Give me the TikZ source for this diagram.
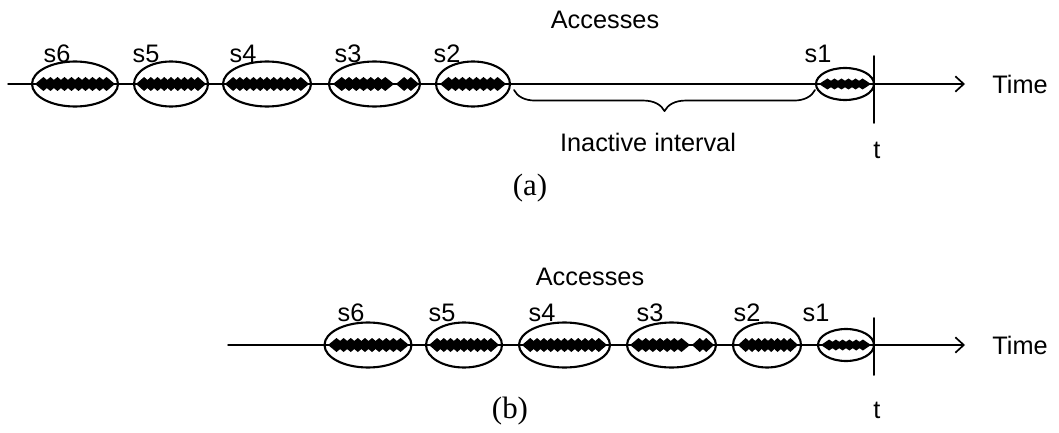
\documentclass[tikz,border=0pt]{standalone}
\usepackage{fontspec}
\setmainfont{Liberation Sans}
\newfontfamily\capfont{Liberation Serif}
\usetikzlibrary{shapes.geometric,arrows.meta,decorations.pathreplacing}

% a run of accesses: left x, right x, count, y, half height
\newcommand{\hits}[5]{%
  \pgfmathsetmacro{\dw}{(#2-#1)/(#3+1.4)}
  \foreach \k in {1,...,#3}{
    \pgfmathsetmacro{\cx}{#1+(\k+0.2)*\dw}
    \fill (\cx-1.2*\dw,#4) -- (\cx,#4-#5) -- (\cx+1.2*\dw,#4) -- (\cx,#4+#5) -- cycle;
  }}

\begin{document}
\begin{tikzpicture}[x=0.025cm, y=-0.025cm, line join=round, line cap=round,
    sess/.style={draw, ellipse, line width=1.5pt, inner sep=0pt, minimum width=#1*0.025cm, minimum height=45*0.025cm},
    lbl/.style={inner sep=0pt, font=\fontsize{18}{21}\selectfont},
    figcap/.style={inner sep=0pt, font=\capfont\fontsize{22}{26}\selectfont},
    timeline/.style={line width=1pt, -{Straight Barb[length=6pt,width=11pt,line width=1.2pt]}}]
	\useasboundingbox (0,0) rectangle (1059,433);
	% (a)
	\coordinate (startA) at (8,84);
	\coordinate (tipA) at (965,84);
	\draw[timeline] (startA) -- (tipA);
	\node[lbl] (timeA) at (1020,84) {Time};
	\node[lbl] (accA) at (605,20) {Accesses};
	\hits{35}{115}{10}{84}{7}
	\hits{136}{206}{9}{84}{7}
	\hits{225}{309}{11}{84}{7}
	\hits{333}{394}{7}{84}{7} \hits{396}{419}{2}{84}{7}
	\hits{440}{506}{8}{84}{7}
	\hits{819}{871}{6}{84}{5.5}
	\node[sess=86] (a6) at (75,84) {};
	\node[sess=74] (a5) at (171,84) {};
	\node[sess=88] (a4) at (267,84) {};
	\node[sess=91] (a3) at (374.5,84) {};
	\node[sess=74] (a2) at (473,84) {};
	\node[sess=58, minimum height=32*0.025cm] (a1) at (845,84) {};
	\node[lbl] (la6) at (57,54) {s6};
	\node[lbl] (la5) at (146,54) {s5};
	\node[lbl] (la4) at (243,54) {s4};
	\node[lbl] (la3) at (348,54) {s3};
	\node[lbl] (la2) at (447,54) {s2};
	\node[lbl] (la1) at (818,54) {s1};
	\coordinate (ttopA) at (874,56);
	\coordinate (tbotA) at (874,123);
	\draw[line width=1.4pt] (ttopA) -- (tbotA);
	\node[lbl] (tA) at (877,150) {t};
	\coordinate (br1) at (514,90);
	\coordinate (br2) at (815,90);
	\draw[line width=1.2pt, decorate, decoration={brace, mirror, amplitude=15pt}] (br1) -- (br2);
	\node[lbl] (inact) at (648,142) {Inactive interval};
	\node[figcap] (capA) at (530,188) {(a)};
	% (b)
	\coordinate (startB) at (228,345);
	\coordinate (tipB) at (965,345);
	\draw[timeline] (startB) -- (tipB);
	\node[lbl] (timeB) at (1020,345) {Time};
	\node[lbl] (accB) at (590,277) {Accesses};
	\hits{328}{409}{10}{345}{7}
	\hits{429}{499}{9}{345}{7}
	\hits{522}{607}{11}{345}{7}
	\hits{630}{690}{7}{345}{7} \hits{692}{714}{2}{345}{7}
	\hits{738}{798}{8}{345}{7}
	\hits{821}{871}{6}{345}{5.5}
	\node[sess=87] (b6) at (368,345) {};
	\node[sess=76] (b5) at (464,345) {};
	\node[sess=91] (b4) at (564.5,345) {};
	\node[sess=89] (b3) at (671.5,345) {};
	\node[sess=68] (b2) at (767,345) {};
	\node[sess=56, minimum height=32*0.025cm] (b1) at (846,345) {};
	\node[lbl] (lb6) at (351,313) {s6};
	\node[lbl] (lb5) at (442,313) {s5};
	\node[lbl] (lb4) at (542,313) {s4};
	\node[lbl] (lb3) at (650,313) {s3};
	\node[lbl] (lb2) at (747,313) {s2};
	\node[lbl] (lb1) at (816,313) {s1};
	\coordinate (ttopB) at (874,318);
	\coordinate (tbotB) at (874,375);
	\draw[line width=1.4pt] (ttopB) -- (tbotB);
	\node[lbl] (tB) at (877,410) {t};
	\node[figcap] (capB) at (510,411) {(b)};
\end{tikzpicture}
\end{document}
